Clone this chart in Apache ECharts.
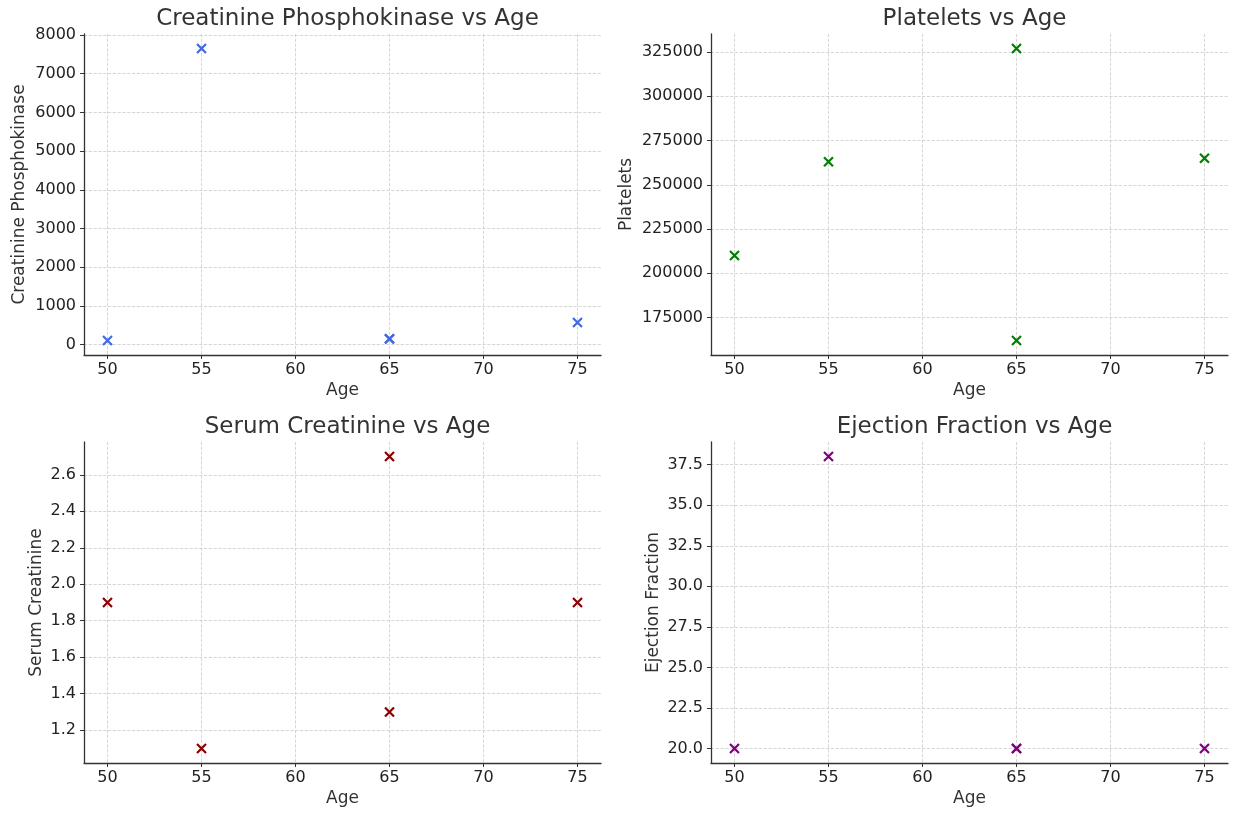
<!DOCTYPE html>
<html lang="en">
<head>
<meta charset="utf-8">
<title>Clinical values vs Age</title>
<script src="https://cdn.jsdelivr.net/npm/echarts@6/dist/echarts.min.js"></script>
<style>
  html, body { margin: 0; background: #fff; }
  #main { width: 1233px; height: 814px; }
</style>
</head>
<body>
<div id="main"></div>
<script>
// data
var ages = [50, 55, 65, 65, 75];
var cpk = [105, 7650, 145, 150, 570];
var platelets = [210000, 263000, 327000, 162000, 265000];
var serum = [1.9, 1.1, 2.7, 1.3, 1.9];
var ejection = [20, 38, 20, 20, 20];

// tick labels
var ageTicks = [50, 55, 60, 65, 70, 75];
var cpkTicks = [0, 1000, 2000, 3000, 4000, 5000, 6000, 7000, 8000];
var plateletTicks = [175000, 200000, 225000, 250000, 275000, 300000, 325000];
var serumTicks = [1.2, 1.4, 1.6, 1.8, 2.0, 2.2, 2.4, 2.6];
var ejectionTicks = [20, 22.5, 25, 27.5, 30, 32.5, 35, 37.5];

var FONT = 'DejaVu Sans';
var xMark = 'path://M0,0L10,10M10,0L0,10';

// matplotlib style 5% margin
function pad(arr) {
    var lo = Math.min.apply(null, arr), hi = Math.max.apply(null, arr);
    var m = (hi - lo) * 0.05;
    return [lo - m, hi + m];
}

var panels = [
    { title: 'Creatinine Phosphokinase vs Age', name: 'Creatinine Phosphokinase', vals: cpk, ticks: cpkTicks, color: '#4169e1', gap: 56, dec: 0,
      left: 84, top: 34 },
    { title: 'Platelets vs Age', name: 'Platelets', vals: platelets, ticks: plateletTicks, color: '#008000', gap: 76, dec: 0,
      left: 711, top: 34 },
    { title: 'Serum Creatinine vs Age', name: 'Serum Creatinine', vals: serum, ticks: serumTicks, color: '#8b0000', gap: 39, dec: 1,
      left: 84, top: 442 },
    { title: 'Ejection Fraction vs Age', name: 'Ejection Fraction', vals: ejection, ticks: ejectionTicks, color: '#800080', gap: 49, dec: 1,
      left: 711, top: 442 }
];
var W = 517, H = 321;

var axisLine = { show: true, onZero: false, lineStyle: { color: '#333', width: 1.3 } };
var grid = [], xAxis = [], yAxis = [], series = [], title = [];
var ageRange = pad(ages);

panels.forEach(function (p, i) {
    var yr = pad(p.vals);
    grid.push({ left: p.left, top: p.top, width: W, height: H });
    title.push({
        text: p.title, left: p.left + W / 2, top: p.top - 31, textAlign: 'center',
        textStyle: { fontFamily: FONT, fontSize: 23, fontWeight: 'normal', color: '#333' }
    });
    xAxis.push({
        gridIndex: i, type: 'value', min: ageRange[0], max: ageRange[1],
        name: 'Age', nameLocation: 'middle', nameGap: 27,
        nameTextStyle: { fontFamily: FONT, fontSize: 17, color: '#333' },
        axisLine: axisLine,
        axisTick: { show: true, length: 4, customValues: ageTicks, lineStyle: { color: '#333' } },
        axisLabel: { customValues: ageTicks, fontFamily: FONT, fontSize: 16, color: '#222', margin: 7 },
        splitLine: { show: true, lineStyle: { color: '#ccc', type: 'dashed', width: 0.8 } }
    });
    yAxis.push({
        gridIndex: i, type: 'value', min: yr[0], max: yr[1],
        name: p.name, nameLocation: 'middle', nameGap: p.gap,
        nameTextStyle: { fontFamily: FONT, fontSize: 17, color: '#333' },
        axisLine: axisLine,
        axisTick: { show: true, length: 4, customValues: p.ticks, lineStyle: { color: '#333' } },
        axisLabel: {
            customValues: p.ticks, fontFamily: FONT, fontSize: 16, color: '#222', margin: 8,
            formatter: (function (d) { return function (v) { return v.toFixed(d); }; })(p.dec)
        },
        splitLine: { show: true, lineStyle: { color: '#ccc', type: 'dashed', width: 0.8 } }
    });
    series.push({
        type: 'scatter', xAxisIndex: i, yAxisIndex: i,
        symbol: xMark, symbolSize: 9,
        itemStyle: { color: 'rgba(0,0,0,0)', borderColor: p.color, borderWidth: 2.2, opacity: 1 },
        data: ages.map(function (a, k) { return [a, p.vals[k]]; })
    });
});

var myChart = echarts.init(document.getElementById('main'));
myChart.setOption({
    animation: false,
    backgroundColor: '#fff',
    title: title,
    grid: grid,
    xAxis: xAxis,
    yAxis: yAxis,
    series: series
});
</script>
</body>
</html>
